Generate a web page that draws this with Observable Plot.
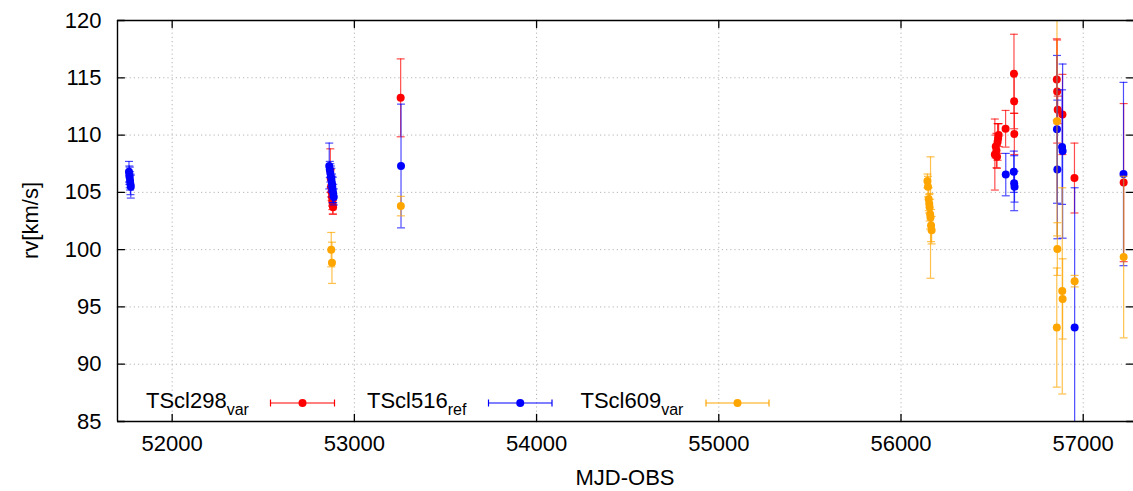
<!DOCTYPE html>
<html>
<head>
<meta charset="utf-8">
<script src="https://cdn.jsdelivr.net/npm/d3@7"></script>
<script src="https://cdn.jsdelivr.net/npm/@observablehq/plot@0.6"></script>
<style>
  html, body { margin: 0; padding: 0; background: #fff; }
</style>
</head>
<body>
<div id="chart"></div>
<script>
// Radial velocities of three stars against observation date (MJD).

// TScl298 (variable)
const s298Mjd = [52868, 52870, 52872, 52875, 52877, 52879, 52881, 52883,
                 53254,
                 56515, 56520, 56524, 56527, 56530, 56533, 56536, 56574, 56620, 56621, 56622,
                 56855, 56857, 56860, 56886, 56952,
                 57222];
const s298Rv  = [106.9, 106.2, 105.5, 105.0, 104.6, 104.2, 103.9, 103.7,
                 113.25,
                 108.3, 109.0, 108.65, 108.1, 109.4, 109.7, 110.0, 110.55, 115.35, 112.95, 110.1,
                 114.85, 113.8, 112.2, 111.8, 106.25,
                 105.85];
const s298Err = [1.9, 0.8, 0.9, 0.7, 0.8, 0.7, 0.8, 0.6,
                 3.4,
                 3.1, 1.0, 1.5, 1.0, 1.6, 1.3, 1.0, 1.6, 3.45, 2.4, 1.8,
                 3.55, 4.5, 1.2, 3.5, 3.05,
                 6.9];

// TScl516 (reference)
const s516Mjd = [51763, 51765, 51767, 51769, 51771, 51773,
                 52862, 52865, 52868, 52871, 52874, 52877, 52879, 52881, 52884, 52887,
                 53256,
                 56575, 56619, 56621, 56623,
                 56856, 56858, 56884, 56887, 56953,
                 57221];
const s516Rv  = [106.8, 106.5, 106.3, 106.0, 105.7, 105.5,
                 107.3, 107.0, 106.7, 106.4, 106.1, 105.8, 105.5, 105.2, 104.9, 104.6,
                 107.3,
                 106.55, 106.8, 105.8, 105.5,
                 110.5, 107.0, 108.95, 108.6, 93.2,
                 106.6];
const s516Err = [0.9, 0.8, 0.9, 0.8, 0.9, 1.0,
                 2.0, 0.7, 0.8, 0.9, 1.0, 0.8, 0.9, 1.1, 0.8, 0.7,
                 5.4,
                 1.85, 1.8, 2.4, 1.35,
                 6.45, 6.05, 5.0, 7.6, 12.2,
                 8.0];

// TScl609 (variable)
const s609Mjd = [52873, 52877,
                 53255,
                 56145, 56148, 56152, 56155, 56157, 56160, 56162, 56165, 56168,
                 56855, 56856, 56858, 56885, 56887, 56953,
                 57222];
const s609Rv  = [100.0, 98.85,
                 103.8,
                 106.0, 105.5, 104.4, 104.0, 103.7, 103.1, 102.8, 102.1, 101.7,
                 93.2, 111.2, 100.05, 96.4, 95.7, 97.25,
                 99.35];
const s609Err = [1.5, 1.8,
                 0.85,
                 0.6, 0.9, 1.0, 0.8, 1.2, 1.3, 5.3, 1.4, 1.2,
                 5.2, 10.0, 2.3, 9.0, 3.5, 0.5,
                 7.05];

// Series metadata (drawn in this order)
const seriesNames  = ["TScl298", "TScl516", "TScl609"];
const seriesSubs   = ["var", "ref", "var"];
const seriesColors = ["#ff0000", "#0000ff", "#ffa500"];

// Axes
const xTicks  = [52000, 53000, 54000, 55000, 56000, 57000];
const yTicks  = [85, 90, 95, 100, 105, 110, 115, 120];
const xDomain = [51700, 57276];
const yDomain = [85, 120];
const xTitle  = "MJD-OBS";
const yTitle  = "rv[km/s]";

const FONT = "'Liberation Sans', Arial, Helvetica, sans-serif";

const columns = [[s298Mjd, s298Rv, s298Err], [s516Mjd, s516Rv, s516Err], [s609Mjd, s609Rv, s609Err]];
const series = columns.map(([m, v, e], i) => ({
  name: seriesNames[i],
  color: seriesColors[i],
  rows: m.map((mjd, j) => ({mjd, rv: v[j], err: e[j]}))
}));

// horizontal cap for error bars; half-width equals r
const capSymbol = {
  draw(ctx, size) {
    const w = Math.sqrt(size / Math.PI);
    ctx.moveTo(-w, 0);
    ctx.lineTo(w, 0);
  }
};
// short inward tick line for the frame
const tickShape = {
  draw(ctx, l) {
    ctx.moveTo(0, 0);
    ctx.lineTo(0, -l);
  }
};

const barStyle = {strokeWidth: 1.2, strokeOpacity: 0.7, clip: true};
const seriesMarks = series.flatMap(s => [
  Plot.ruleX(s.rows, {x: "mjd", y1: d => d.rv - d.err, y2: d => d.rv + d.err, stroke: s.color, ...barStyle}),
  Plot.dot(s.rows, {x: "mjd", y: d => d.rv + d.err, symbol: capSymbol, r: 4, stroke: s.color, fill: "none", ...barStyle}),
  Plot.dot(s.rows, {x: "mjd", y: d => d.rv - d.err, symbol: capSymbol, r: 4, stroke: s.color, fill: "none", ...barStyle}),
  Plot.dot(s.rows, {x: "mjd", y: "rv", r: 4, fill: s.color, stroke: "none", clip: true})
]);

const grid = {stroke: "#b4b4b4", strokeOpacity: 1, strokeWidth: 1, strokeDasharray: "1.2,3"};
const tickStyle = {length: 7, anchor: "start", shape: tickShape, stroke: "#000", strokeWidth: 1.3};

const chart = Plot.plot({
  width: 1133,
  height: 491,
  marginLeft: 117,
  marginRight: 0,
  marginTop: 20,
  marginBottom: 70,
  style: {fontFamily: FONT, fontSize: "22px", background: "#fff", color: "#000"},
  x: {domain: xDomain},
  y: {domain: yDomain},
  marks: [
    Plot.gridX(xTicks, grid),
    Plot.gridY(yTicks, grid),
    ...seriesMarks,
    // frame
    Plot.ruleX([xDomain[0]], {stroke: "#000", strokeWidth: 1.4}),
    Plot.ruleY([yDomain[0], yDomain[1]], {stroke: "#000", strokeWidth: 1.4}),
    // inward ticks on all four sides
    Plot.vector(yTicks, {x: xDomain[0], y: d => d, rotate: 90, ...tickStyle}),
    Plot.vector(yTicks, {x: xDomain[1], y: d => d, rotate: -90, ...tickStyle}),
    Plot.vector(xTicks, {x: d => d, y: yDomain[0], rotate: 0, ...tickStyle}),
    Plot.vector(xTicks, {x: d => d, y: yDomain[1], rotate: 180, ...tickStyle}),
    Plot.axisX(xTicks, {tickSize: 0, tickPadding: 14, fontSize: 22, label: null, tickFormat: d3.format("d")}),
    Plot.axisY(yTicks, {tickSize: 0, tickPadding: 16, fontSize: 22, label: null, tickFormat: d3.format("d")})
  ]
});

document.getElementById("chart").appendChild(chart);

// Axis titles and the in-plot key
const svg = d3.select(chart);
svg.append("text")
  .attr("x", 625).attr("y", 485)
  .attr("text-anchor", "middle")
  .attr("font-family", FONT).attr("font-size", 22).attr("fill", "#000")
  .text(xTitle);
svg.append("text")
  .attr("transform", "translate(38,220.5) rotate(-90)")
  .attr("text-anchor", "middle")
  .attr("font-family", FONT).attr("font-size", 22).attr("fill", "#000")
  .text(yTitle);

const keyTextX = [146, 367, 580.5];
const keyLineX = [[270.5, 334.5], [488.5, 552], [706, 769]];
const keyY = 403;
const key = svg.append("g").attr("font-family", FONT).attr("fill", "#000").attr("text-anchor", "start");
series.forEach((s, i) => {
  const t = key.append("text").attr("x", keyTextX[i]).attr("y", 408).attr("font-size", 22).attr("text-anchor", "start").text(s.name);
  t.append("tspan").attr("font-size", 16).attr("dy", 7).text(seriesSubs[i]);
  const [a, b] = keyLineX[i];
  const g = key.append("g").attr("stroke", s.color).attr("stroke-width", 1.2);
  g.append("line").attr("x1", a).attr("x2", b).attr("y1", keyY).attr("y2", keyY);
  g.append("line").attr("x1", a).attr("x2", a).attr("y1", keyY - 3.5).attr("y2", keyY + 3.5);
  g.append("line").attr("x1", b).attr("x2", b).attr("y1", keyY - 3.5).attr("y2", keyY + 3.5);
  key.append("circle").attr("cx", (a + b) / 2).attr("cy", keyY).attr("r", 4).attr("fill", s.color);
});
</script>
</body>
</html>
